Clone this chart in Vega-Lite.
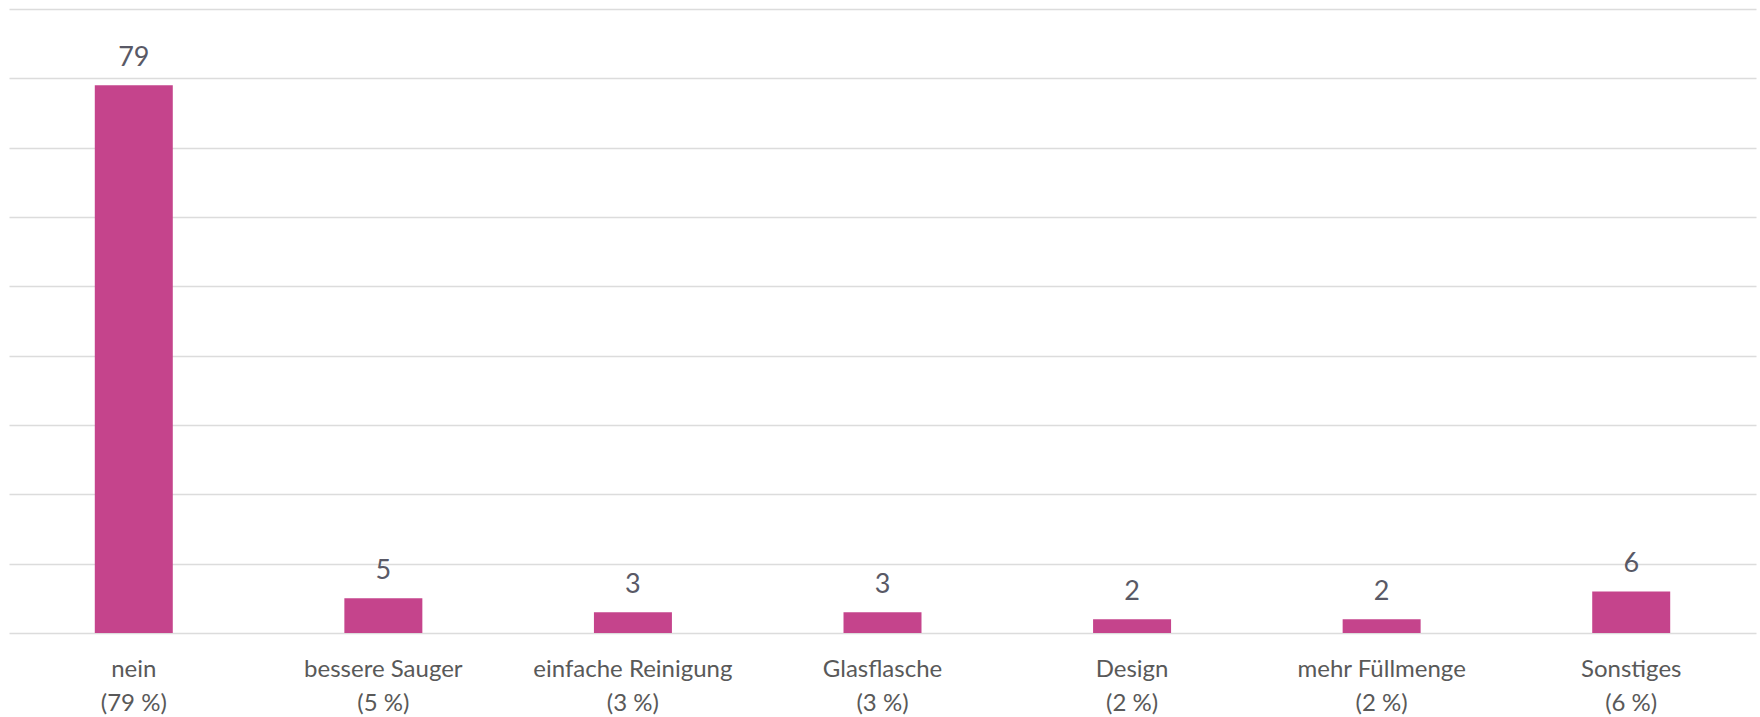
{
  "$schema": "https://vega.github.io/schema/vega-lite/v6.json",
  "width": 1747,
  "height": 624,
  "autosize": {"type": "none"},
  "padding": {"left": 9, "top": 9, "right": 4, "bottom": 84},
  "background": "white",
  "config": {"view": {"stroke": null}, "font": "Lato"},
  "data": {
    "values": [
      {"cat": "nein|(79 %)", "value": 79},
      {"cat": "bessere Sauger|(5 %)", "value": 5},
      {"cat": "einfache Reinigung|(3 %)", "value": 3},
      {"cat": "Glasflasche|(3 %)", "value": 3},
      {"cat": "Design|(2 %)", "value": 2},
      {"cat": "mehr Füllmenge|(2 %)", "value": 2},
      {"cat": "Sonstiges|(6 %)", "value": 6}
    ]
  },
  "encoding": {
    "x": {
      "field": "cat",
      "type": "nominal",
      "sort": null,
      "scale": {"paddingInner": 0.6875, "paddingOuter": 0.34375},
      "axis": {
        "title": null,
        "labelAngle": 0,
        "domain": false,
        "ticks": false,
        "labelExpr": "split(datum.label, '|')",
        "labelFontSize": 24,
        "labelLineHeight": 34,
        "labelPadding": 24,
        "labelLimit": 400,
        "labelColor": "#595959",
        "labelFont": "Lato"
      }
    },
    "y": {
      "field": "value",
      "type": "quantitative",
      "scale": {"domain": [0, 90], "nice": false},
      "axis": {
        "title": null,
        "labels": false,
        "ticks": false,
        "domain": false,
        "values": [0, 10, 20, 30, 40, 50, 60, 70, 80, 90],
        "gridColor": "#dcdcdc",
        "gridWidth": 1.5
      }
    }
  },
  "layer": [
    {"mark": {"type": "bar", "color": "#C5448C"}},
    {
      "mark": {"type": "text", "baseline": "alphabetic", "dy": -19, "fontSize": 27, "color": "#595966", "font": "Lato"},
      "encoding": {"text": {"field": "value", "type": "quantitative"}}
    }
  ]
}
